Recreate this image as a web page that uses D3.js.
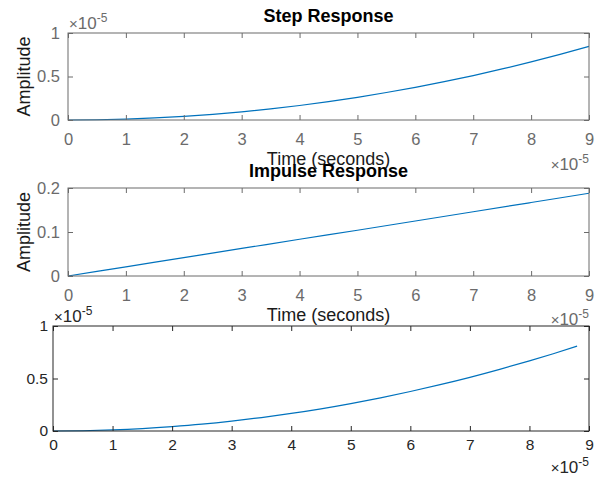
<!DOCTYPE html>
<html>
<head>
<meta charset="utf-8">
<script src="https://cdn.jsdelivr.net/npm/d3@7"></script>
<style>
  html, body { margin: 0; padding: 0; background: #fff; }
  svg { display: block; font-family: "Liberation Sans", Arial, Helvetica, sans-serif; }
</style>
</head>
<body>
<svg id="chart" width="597" height="477"></svg>
<script>
// ---- data (time in units of 1e-5 s) ----
const timeTicks = [0, 1, 2, 3, 4, 5, 6, 7, 8, 9];
const stepTime = [0, 0.5, 1, 1.5, 2, 2.5, 3, 3.5, 4, 4.5, 5, 5.5, 6, 6.5, 7, 7.5, 8, 8.5, 9];
const stepValues = [0, 0.0026, 0.0104, 0.0235, 0.042, 0.065, 0.094, 0.128, 0.167, 0.211, 0.261, 0.316, 0.376, 0.441, 0.511, 0.587, 0.668, 0.754, 0.846];
const impulseTime = [0, 1, 2, 3, 4, 5, 6, 7, 8, 9];
const impulseValues = [0, 0.0209, 0.0418, 0.0626, 0.0835, 0.104, 0.125, 0.146, 0.167, 0.188];
const simTime = [0, 0.5, 1, 1.5, 2, 2.5, 3, 3.5, 4, 4.5, 5, 5.5, 6, 6.5, 7, 7.5, 8, 8.4, 8.8];
const simValues = [0, 0.0026, 0.0104, 0.0235, 0.042, 0.065, 0.094, 0.128, 0.167, 0.211, 0.261, 0.316, 0.376, 0.441, 0.511, 0.587, 0.668, 0.736, 0.808];
const stepYTicks = [0, 0.5, 1];
const impulseYTicks = [0, 0.1, 0.2];
const simYTicks = [0, 0.5, 1];
const titles = ["Step Response", "Impulse Response"];
const xLabelText = "Time (seconds)";
const yLabelText = "Amplitude";

// ---- layout ----
const svg = d3.select("#chart");
const LINE = "#0072BD";

const panels = [
  { t: stepTime, v: stepValues, yTicks: stepYTicks, yMax: 1, left: 68, right: 589, top: 33, bottom: 120,
    title: titles[0], labels: true, yExp: true, axisColor: "#6b6b6b", tickFont: 16.5, xPad: 13, yPad: 8, xExpDy: 50 },
  { t: impulseTime, v: impulseValues, yTicks: impulseYTicks, yMax: 0.2, left: 68, right: 589, top: 188, bottom: 276,
    title: titles[1], labels: true, yExp: false, axisColor: "#6b6b6b", tickFont: 16.5, xPad: 13, yPad: 8, xExpDy: 49 },
  { t: simTime, v: simValues, yTicks: simYTicks, yMax: 1, left: 53, right: 589, top: 326, bottom: 431,
    title: null, labels: false, yExp: true, axisColor: "#262626", tickFont: 15.5, xPad: 8, yPad: 5, xExpDy: 42 }
];

function fmt(d) { return d3.format("~g")(d); }

function expText(g, x, y, anchor, color) {
  const t = g.append("text").attr("x", x).attr("y", y).attr("text-anchor", anchor)
    .attr("fill", color).style("font-size", "17px");
  t.append("tspan").style("font-size", "15px").text("\u00D7");
  t.append("tspan").text("10");
  t.append("tspan").attr("dy", -7).style("font-size", "12px").text("-5");
}

panels.forEach(p => {
  const x = d3.scaleLinear().domain([0, 9]).range([p.left, p.right]);
  const y = d3.scaleLinear().domain([0, p.yMax]).range([p.bottom, p.top]);
  const g = svg.append("g");

  // line
  const line = d3.line().x((d, i) => x(p.t[i])).y(d => y(d)).curve(d3.curveMonotoneX);
  g.append("path").datum(p.v).attr("d", line).attr("fill", "none")
    .attr("stroke", LINE).attr("stroke-width", 1.2);

  // axes (ticks inward)
  const styleAxis = (sel) => {
    sel.select(".domain").remove();
    sel.selectAll("line").attr("stroke", p.axisColor);
    sel.selectAll("text").attr("fill", p.axisColor).style("font-size", p.tickFont + "px")
      .style("font-family", "'Liberation Sans', Arial, sans-serif");
  };
  g.append("g").attr("transform", `translate(0,${p.bottom})`)
    .call(d3.axisBottom(x).tickValues(timeTicks).tickFormat(fmt).tickSize(-5).tickPadding(p.xPad))
    .call(s => styleAxis(s));
  g.append("g").attr("transform", `translate(0,${p.top})`)
    .call(d3.axisTop(x).tickValues(timeTicks).tickFormat("").tickSize(-5))
    .call(s => styleAxis(s));
  g.append("g").attr("transform", `translate(${p.left},0)`)
    .call(d3.axisLeft(y).tickValues(p.yTicks).tickFormat(fmt).tickSize(-5).tickPadding(p.yPad))
    .call(s => styleAxis(s));
  g.append("g").attr("transform", `translate(${p.right},0)`)
    .call(d3.axisRight(y).tickValues(p.yTicks).tickFormat("").tickSize(-5))
    .call(s => styleAxis(s));

  // box
  g.append("rect").attr("x", p.left).attr("y", p.top)
    .attr("width", p.right - p.left).attr("height", p.bottom - p.top)
    .attr("fill", "none").attr("stroke", p.axisColor).attr("stroke-width", 1);

  // exponents
  expText(g, p.right, p.bottom + p.xExpDy, "end", p.axisColor);
  if (p.yExp) expText(g, p.left + 1, p.top - 4, "start", p.axisColor);

  const cx = (p.left + p.right) / 2;
  if (p.title) {
    g.append("text").attr("x", cx).attr("y", p.top - 11.5).attr("text-anchor", "middle")
      .attr("fill", "#000").style("font-size", "18px").style("font-weight", "bold").text(p.title);
  }
  if (p.labels) {
    g.append("text").attr("x", cx).attr("y", p.bottom + 44.5).attr("text-anchor", "middle")
      .attr("fill", "#1a1a1a").style("font-size", "18px").text(xLabelText);
    g.append("text").attr("transform", `translate(${p.left - 38},${(p.top + p.bottom) / 2}) rotate(-90)`)
      .attr("text-anchor", "middle").attr("fill", "#1a1a1a").style("font-size", "18px").text(yLabelText);
  }
});
</script>
</body>
</html>
